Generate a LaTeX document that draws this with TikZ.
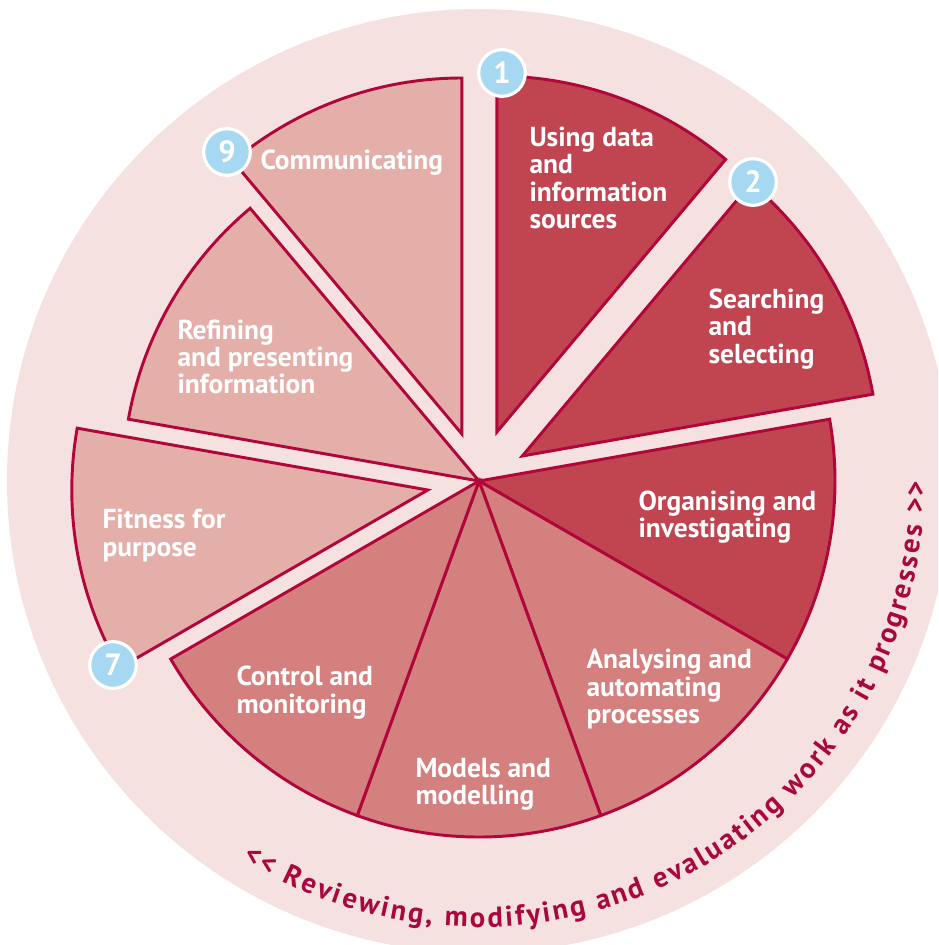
\documentclass[tikz,border=0pt]{standalone}
\usepackage{fontspec}
\newfontfamily\labelfont{PT Sans}
\usetikzlibrary{decorations.text}

\definecolor{bgpink}{RGB}{245,225,224}
\definecolor{darkred}{RGB}{193,69,80}
\definecolor{midred}{RGB}{212,128,126}
\definecolor{lightred}{RGB}{229,175,169}
\definecolor{edgered}{RGB}{176,6,58}
\definecolor{badgeblue}{RGB}{166,216,242}
\definecolor{textcrimson}{RGB}{168,8,62}

\tikzset{every picture/.style={line width=0.75pt}}
\tikzset{
	sector/.style={draw=edgered, line width=2.2pt, line join=miter},
	seclabel/.style={text=white, font=\labelfont\bfseries\fontsize{20.6}{20.4}\selectfont, align=left, anchor=west, inner sep=0pt},
	badge/.style={circle, draw=white, line width=2.4pt, fill=badgeblue, text=white, minimum size=35pt, inner sep=0pt, font=\labelfont\bfseries\fontsize{23}{23}\selectfont}}

\begin{document}
\begin{tikzpicture}[x=0.75pt,y=0.75pt,yscale=-1,xscale=1]
	\useasboundingbox (0,0) rectangle (938,945);
	\clip (0,0) rectangle (938,945);

	%Shape: Circle (background ring)
	\fill[bgpink] (479,481) circle [radius=472];

	%Shape: Sector 1
	\draw[sector, fill=darkred] (496.8,432.1) -- ++(-90:356) arc[start angle=-90, end angle=-50, radius=356] -- cycle;
	%Shape: Sector 2
	\draw[sector, fill=darkred] (522.3,456) -- ++(-50:356) arc[start angle=-50, end angle=-10, radius=356] -- cycle;
	%Shape: Sector 3
	\draw[sector, fill=darkred] (479,481) -- ++(-10:356) arc[start angle=-10, end angle=30, radius=356] -- cycle;
	%Shape: Sector 4
	\draw[sector, fill=midred] (479,481) -- ++(30:356) arc[start angle=30, end angle=70, radius=356] -- cycle;
	%Shape: Sector 5
	\draw[sector, fill=midred] (479,481) -- ++(70:356) arc[start angle=70, end angle=110, radius=356] -- cycle;
	%Shape: Sector 6
	\draw[sector, fill=midred] (479,481) -- ++(110:356) arc[start angle=110, end angle=150, radius=356] -- cycle;
	%Shape: Sector 7
	\draw[sector, fill=lightred] (427.8,490) -- ++(150:356) arc[start angle=150, end angle=190, radius=356] -- cycle;
	%Shape: Sector 8
	\draw[sector, fill=lightred] (479,481) -- ++(190:356) arc[start angle=190, end angle=230, radius=356] -- cycle;
	%Shape: Sector 9
	\draw[sector, fill=lightred] (461.9,434) -- ++(230:356) arc[start angle=230, end angle=270, radius=356] -- cycle;

	% Text Node
	\node[seclabel] (using) at (529,178) {Using data\\and\\information\\sources};
	% Text Node
	\node[seclabel] (searching) at (708,329) {Searching\\and\\selecting};
	% Text Node
	\node[seclabel] (organising) at (638,517.5) {Organising and\\investigating};
	% Text Node
	\node[seclabel] (analysing) at (586,689) {Analysing and\\automating\\processes};
	% Text Node
	\node[seclabel] (models) at (415,784.5) {Models and\\modelling};
	% Text Node
	\node[seclabel] (control) at (236,692.5) {Control and\\monitoring};
	% Text Node
	\node[seclabel] (fitness) at (102,535.5) {Fitness for\\purpose};
	% Text Node
	\node[seclabel] (refining) at (177,357) {Refining\\and presenting\\information};
	% Text Node
	\node[seclabel] (communicating) at (260,163) {Communicating};

	%Number badges
	\node[badge] (n1) at (502,73) {1};
	\node[badge] (n2) at (753,182) {2};
	\node[badge] (n7) at (113,665) {7};
	\node[badge] (n9) at (227,152) {9};

	%Curved text round the ring
	\path[decorate, decoration={text along path, text align={fit to path}, text color=textcrimson,
		text={|\labelfont\bfseries\fontsize{21.5}{21.5}\selectfont|<< Reviewing, modifying and evaluating work as it progresses >>}}]
		(479,481) ++(122:446) arc[start angle=122, end angle=0, radius=446];

\end{tikzpicture}
\end{document}
